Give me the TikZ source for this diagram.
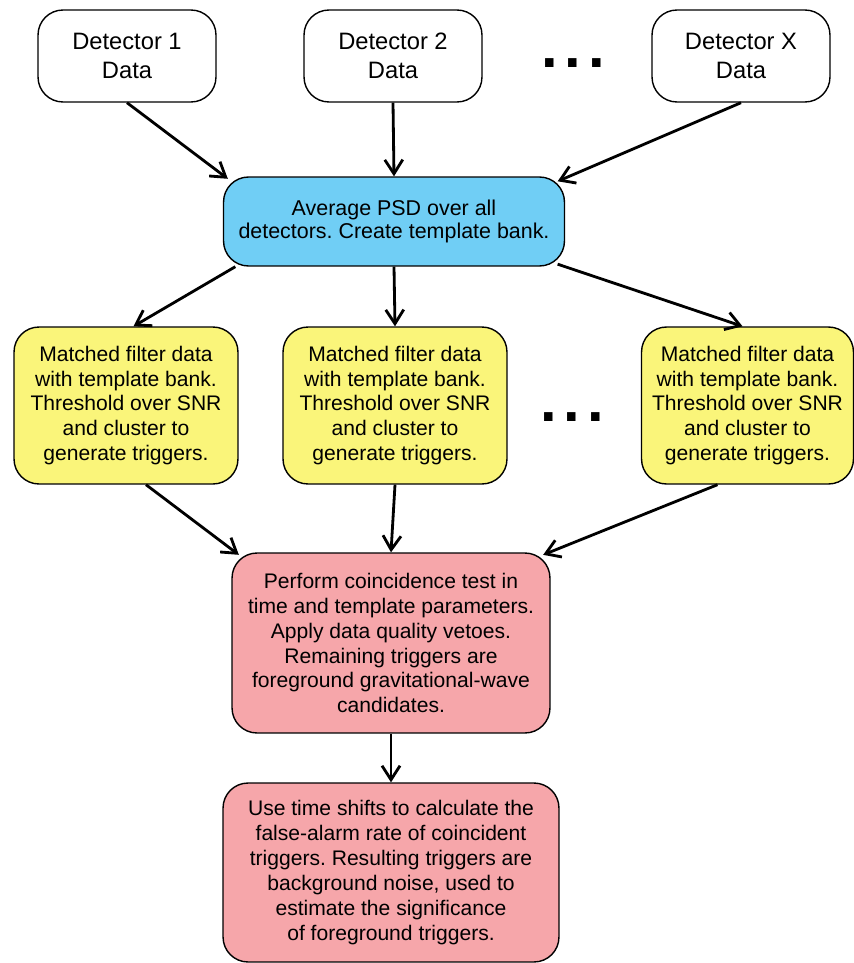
\documentclass[tikz,border=0pt]{standalone}
\usepackage{fontspec}
\setmainfont{Liberation Sans}
\usepackage{tikz}
\usetikzlibrary{arrows.meta}
\definecolor{psdblue}{RGB}{112,206,245}
\definecolor{filteryellow}{RGB}{250,245,122}
\definecolor{coincpink}{RGB}{246,166,170}
\frenchspacing

\begin{document}
\begin{tikzpicture}[x=0.02cm,y=-0.02cm,
      -{Straight Barb[length=2.8mm,width=3.6mm]},line width=1.6pt,
      every node/.append style={align=center,draw=black,line width=0.8pt,rounded corners=0.5cm,inner sep=0pt},
      detbox/.style={minimum width=3.56cm,minimum height=1.84cm,font=\fontsize{13.5}{16.2}\selectfont},
      psdbox/.style={fill=psdblue,minimum width=6.82cm,minimum height=1.78cm,font=\fontsize{12.2}{13}\selectfont},
      filterbox/.style={fill=filteryellow,minimum width=4.48cm,minimum height=3.14cm,font=\fontsize{12}{14.2}\selectfont},
      coincbox/.style={fill=coincpink,minimum width=6.36cm,minimum height=3.6cm,font=\fontsize{12}{14.2}\selectfont},
      dots/.style={draw=none,font=\fontsize{34}{34}\bfseries}]
    \useasboundingbox (0,0) rectangle (854,963);
    \node (det1) [detbox] at (127,56) {Detector 1\\Data};
    \node (det2) [detbox] at (393,56) {Detector 2\\Data};
    \node (detX) [detbox] at (741,56) {Detector X\\Data};
    \node (topdots) [dots] at (573,63) {.\hspace{4pt}.\hspace{4pt}.};
    \node (psd) [psdbox] at (394,221.5) {Average PSD over all\\detectors. Create template bank.};
    \node (filter1) [filterbox] at (126,405.5) {Matched filter data\\with template bank.\\Threshold over SNR\\and cluster to\\generate triggers.};
    \node (filter2) [filterbox] at (395,405.5) {Matched filter data\\with template bank.\\Threshold over SNR\\and cluster to\\generate triggers.};
    \node (filterX) [filterbox,minimum width=4.24cm] at (747.5,405.5) {Matched filter data\\with template bank.\\Threshold over SNR\\and cluster to\\generate triggers.};
    \node (middots) [dots] at (572,417) {.\hspace{4pt}.\hspace{4pt}.};
    \node (coinc) [coincbox] at (391,643) {Perform coincidence test in\\time and template parameters.\\Apply data quality vetoes.\\Remaining triggers are\\foreground gravitational-wave\\candidates.};
    \node (bkg) [coincbox,minimum width=6.72cm,minimum height=3.58cm] at (391,872.5) {Use time shifts to calculate the\\false-alarm rate of coincident\\triggers. Resulting triggers are\\background noise, used to\\estimate the significance\\of foreground triggers.};
    \draw (det1.south) -- ([xshift=0.1cm,yshift=-0.05cm]psd.north west);
    \draw (det2.south) -- (psd.north);
    \draw (detX.south) -- ([xshift=-0.15cm,yshift=-0.1cm]psd.north east);
    \draw ([xshift=0.25cm]psd.south west) -- ([xshift=0.15cm]filter1.north);
    \draw (psd.south) -- (filter2.north);
    \draw ([xshift=-0.15cm,yshift=0.05cm]psd.south east) -- ([xshift=-0.1cm]filterX.north);
    \draw ([xshift=0.4cm]filter1.south) -- ([xshift=0.15cm,yshift=-0.05cm]coinc.north west);
    \draw (filter2.south) -- (coinc.north);
    \draw ([xshift=-0.6cm]filterX.south) -- ([xshift=-0.15cm,yshift=-0.05cm]coinc.north east);
    \draw (coinc.south) -- (bkg.north);
\end{tikzpicture}
\end{document}
